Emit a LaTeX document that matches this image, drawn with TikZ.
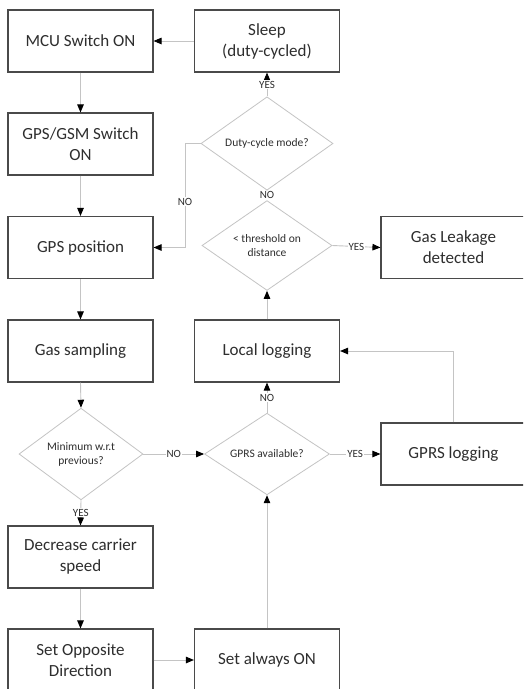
\documentclass[tikz,border=0pt]{standalone}
\usepackage{fontspec}
\setmainfont{Carlito}
\usetikzlibrary{shapes.geometric,arrows.meta}
\definecolor{linegray}{HTML}{C4C4C4}
\definecolor{boxgray}{HTML}{4A4A4A}
\definecolor{txt}{HTML}{2E2E2E}
\tikzset{
  stepbox/.style={draw=boxgray, line width=1.1pt, fill=white, text=txt,
    minimum width=145pt, minimum height=62pt, align=center, inner sep=2pt,
    font=\fontsize{17pt}{21pt}\selectfont},
  decision/.style={diamond, draw=linegray, line width=0.8pt, fill=white, text=txt,
    inner sep=0pt, align=center, font=\fontsize{11.5pt}{14pt}\selectfont},
  conn/.style={draw=linegray, line width=0.9pt,
    -{Triangle[length=8pt,width=6.5pt,color=black]}},
  smallconn/.style={draw=linegray, line width=0.9pt,
    -{Triangle[length=3pt,width=3pt,color=black]}},
  lbl/.style={fill=white, text=txt, inner sep=1pt, font=\fontsize{11pt}{13pt}\selectfont}
}
\begin{document}
\begin{tikzpicture}[x=1pt,y=-1pt]
\useasboundingbox (0,0) rectangle (523,689);
\fill[white] (0,0) rectangle (523,689);
\begin{scope}
\clip (0,0) rectangle (523,689);
% left column
\node[stepbox] (mcu) at (80.5,41) {MCU Switch ON};
\node[stepbox] (gsm) at (80.5,144) {GPS/GSM Switch\\ON};
\node[stepbox] (gpspos) at (80.5,247.5) {GPS position};
\node[stepbox] (gas) at (80.5,351) {Gas sampling};
\node[decision, minimum width=124pt, minimum height=74pt] (min) at (81,454) {Minimum w.r.t\\previous?};
\node[stepbox] (dec) at (80.5,557) {Decrease carrier\\speed};
\node[stepbox] (opp) at (80.5,660) {Set Opposite\\Direction};
% middle column
\node[stepbox] (sleep) at (267,41) {Sleep\\(duty-cycled)};
\node[decision, minimum width=132pt, minimum height=79pt] (duty) at (267,143.5) {Duty-cycle mode?};
\node[decision, minimum width=130pt, minimum height=77pt] (thr) at (267,245.5) {< threshold on\\distance};
\node[stepbox] (local) at (267,351) {Local logging};
\node[decision, minimum width=125pt, minimum height=74pt] (gprs) at (267,454) {GPRS available?};
\node[stepbox] (always) at (267,660) {Set always ON};
% right column
\node[stepbox] (leak) at (453.5,247.5) {Gas Leakage\\detected};
\node[stepbox] (gprslog) at (453.5,454) {GPRS logging};
% connectors
\draw[conn] (sleep.west) -- (mcu.east);
\draw[conn] (mcu.south) -- (gsm.north);
\draw[conn] (gsm.south) -- (gpspos.north);
\draw[conn] (gpspos.south) -- (gas.north);
\draw[conn] (gas.south) -- (min.north);
\draw[conn] (min.south) -- node[lbl] {YES} (dec.north);
\draw[conn] (dec.south) -- (opp.north);
\draw[conn] (opp.east |- always.west) -- (always.west);
\draw[conn] (always.north) -- (gprs.south);
\draw[conn] (min.east) -- node[lbl] {NO} (gprs.west);
\draw[conn] (gprs.east) -- node[lbl] {YES} (gprslog.west);
\draw[conn] (gprs.north) -- node[lbl] {NO} (local.south);
\draw[conn] (gprslog.north) |- (local.east);
\draw[conn] (local.north) -- (thr.south);
\draw[conn] (thr.east) -- node[lbl] {YES} (leak.west);
\draw[smallconn] (thr.north) -- node[lbl] {NO} (duty.south);
\draw[conn] (duty.north) -- node[lbl] {YES} (sleep.south);
\coordinate (bend) at (185,143.5);
\draw[conn] (duty.west) -- (bend) |- node[lbl, pos=0.28] {NO} (gpspos.east);
\end{scope}
\end{tikzpicture}
\end{document}
